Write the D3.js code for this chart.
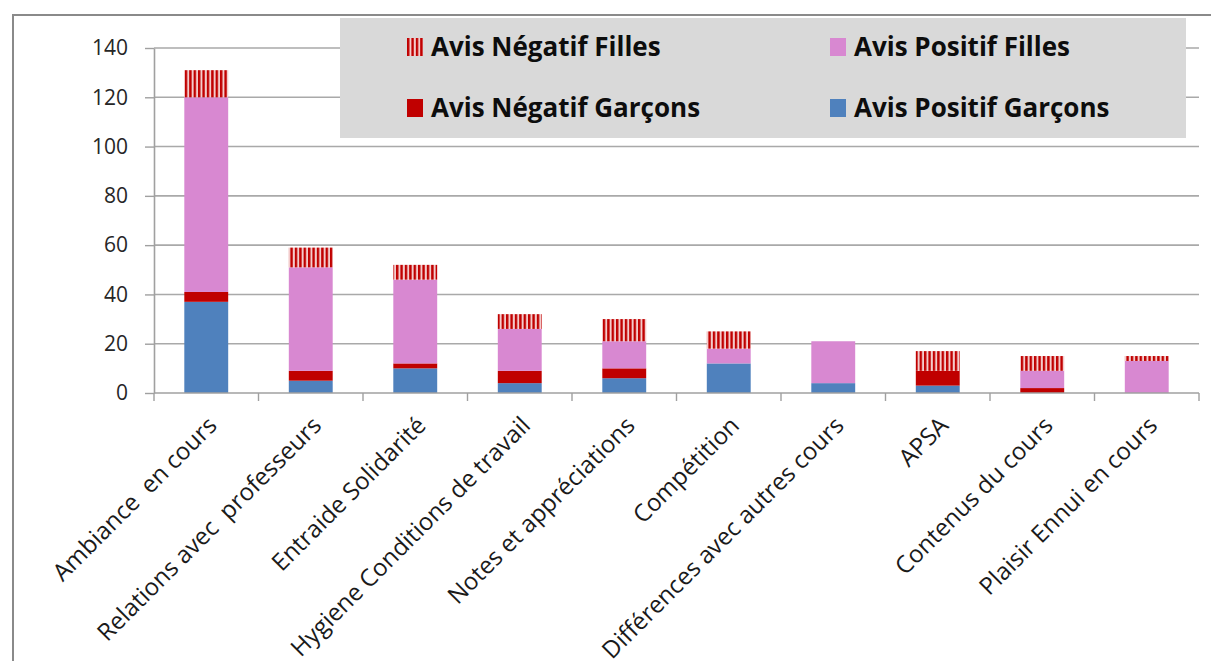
<!DOCTYPE html>
<html>
<head>
<meta charset="utf-8">
<script src="https://cdn.jsdelivr.net/npm/d3@7"></script>
<style>
  html, body { margin: 0; padding: 0; background: #ffffff; }
  svg { display: block; }
</style>
</head>
<body>
<svg id="chart" width="1211" height="661"></svg>
<script>
// Thèmes évoqués par les élèves, avis positifs / négatifs par sexe
const categories = [
  "Ambiance  en cours",
  "Relations avec  professeurs",
  "Entraide Solidarité",
  "Hygiene Conditions de travail",
  "Notes et appréciations",
  "Compétition",
  "Différences avec autres cours",
  "APSA",
  "Contenus du cours",
  "Plaisir Ennui en cours"
];
const positifGarcons = [37, 5, 10, 4, 6, 12, 4, 3, 0, 0];
const negatifGarcons = [4, 4, 2, 5, 4, 0, 0, 6, 2, 0];
const positifFilles  = [79, 42, 34, 17, 11, 6, 17, 0, 7, 13];
const negatifFilles  = [11, 8, 6, 6, 9, 7, 0, 8, 6, 2];
const yTicks = [0, 20, 40, 60, 80, 100, 120, 140];

const seriesKeys = ["pg", "ng", "pf", "nf"];
const seriesNames = {
  nf: "Avis Négatif Filles",
  pf: "Avis Positif Filles",
  ng: "Avis Négatif Garçons",
  pg: "Avis Positif Garçons"
};
const colors = { pg: "#4f81bd", ng: "#c00000", pf: "#d888d1", nf: "url(#hatch)" };

const rows = categories.map((c, i) => ({
  cat: c,
  pg: positifGarcons[i],
  ng: negatifGarcons[i],
  pf: positifFilles[i],
  nf: negatifFilles[i]
}));

const svg = d3.select("#chart");
const plot = { left: 154, right: 1199, top: 48, bottom: 393 };

// hatch for "Avis Négatif Filles": red vertical stripes on pale pink
const defs = svg.append("defs");
const pat = defs.append("pattern")
  .attr("id", "hatch")
  .attr("patternUnits", "userSpaceOnUse")
  .attr("width", 4.4).attr("height", 10);
pat.append("rect").attr("width", 4.4).attr("height", 10).attr("fill", "#f3cccc");
pat.append("rect").attr("width", 2.4).attr("height", 10).attr("fill", "#c00000");

// outer chart frame
svg.append("rect")
  .attr("x", 13).attr("y", 15)
  .attr("width", 1230).attr("height", 680)
  .attr("fill", "#ffffff")
  .attr("stroke", "#8a8a8a").attr("stroke-width", 2);

const x = d3.scaleBand()
  .domain(categories)
  .range([plot.left, plot.right])
  .paddingInner(0.58)
  .paddingOuter(0.29);

const y = d3.scaleLinear().domain([0, 140]).range([plot.bottom, plot.top]);

// horizontal gridlines
svg.append("g")
  .selectAll("line")
  .data(yTicks.filter(t => t > 0))
  .join("line")
  .attr("x1", plot.left).attr("x2", plot.right)
  .attr("y1", d => y(d)).attr("y2", d => y(d))
  .attr("stroke", "#a9a9a9").attr("stroke-width", 1.6);

// y axis
const yAxis = svg.append("g")
  .attr("transform", `translate(${plot.left},0)`)
  .call(d3.axisLeft(y).tickValues(yTicks).tickSize(9).tickPadding(17).tickSizeOuter(0));
yAxis.select(".domain").attr("stroke", "#a0a0a0").attr("stroke-width", 1.6);
yAxis.selectAll(".tick line").attr("stroke", "#a0a0a0").attr("stroke-width", 1.4);
yAxis.selectAll(".tick text")
  .attr("font-family", "'Open Sans', sans-serif")
  .attr("font-size", 21)
  .attr("fill", "#262626");

// stacked bars
const stack = d3.stack().keys(seriesKeys)(rows);
svg.append("g")
  .selectAll("g")
  .data(stack)
  .join("g")
  .attr("fill", d => colors[d.key])
  .selectAll("rect")
  .data(d => d)
  .join("rect")
  .attr("x", d => x(d.data.cat))
  .attr("width", x.bandwidth())
  .attr("y", d => y(d[1]))
  .attr("height", d => y(d[0]) - y(d[1]));

// x axis: line, boundary ticks and rotated labels
const step = x.step();
const xg = svg.append("g");
xg.append("line")
  .attr("x1", plot.left).attr("x2", plot.right)
  .attr("y1", plot.bottom).attr("y2", plot.bottom)
  .attr("stroke", "#a0a0a0").attr("stroke-width", 1.6);
xg.selectAll("line.tick")
  .data(d3.range(categories.length + 1))
  .join("line")
  .attr("class", "tick")
  .attr("x1", i => plot.left + i * step).attr("x2", i => plot.left + i * step)
  .attr("y1", plot.bottom).attr("y2", plot.bottom + 8)
  .attr("stroke", "#a0a0a0").attr("stroke-width", 1.4);
xg.selectAll("text")
  .data(categories)
  .join("text")
  .attr("transform", d => `translate(${x(d) + x.bandwidth() / 2 + 12},${plot.bottom + 34}) rotate(-45)`)
  .attr("text-anchor", "end")
  .attr("font-family", "'Open Sans', sans-serif")
  .attr("font-size", 24)
  .attr("fill", "#1a1a1a")
  .attr("xml:space", "preserve")
  .style("white-space", "pre")
  .text(d => d);

// legend
const legend = svg.append("g");
legend.append("rect")
  .attr("x", 340).attr("y", 18)
  .attr("width", 846).attr("height", 120)
  .attr("fill", "#d9d9d9");
const legendItems = [
  { key: "nf", col: 0, row: 0 },
  { key: "pf", col: 1, row: 0 },
  { key: "ng", col: 0, row: 1 },
  { key: "pg", col: 1, row: 1 }
];
const colX = [407, 830];
const rowY = [38, 99];
const li = legend.selectAll("g.item")
  .data(legendItems)
  .join("g")
  .attr("class", "item")
  .attr("transform", d => `translate(${colX[d.col]},${rowY[d.row]})`);
li.append("rect")
  .attr("width", 16).attr("height", 18)
  .attr("fill", d => colors[d.key]);
li.append("text")
  .attr("x", 24).attr("y", 17.5)
  .attr("font-family", "'Open Sans', sans-serif")
  .attr("font-weight", 700)
  .attr("font-size", 26)
  .attr("fill", "#0d0d0d")
  .text(d => seriesNames[d.key]);
</script>
</body>
</html>
